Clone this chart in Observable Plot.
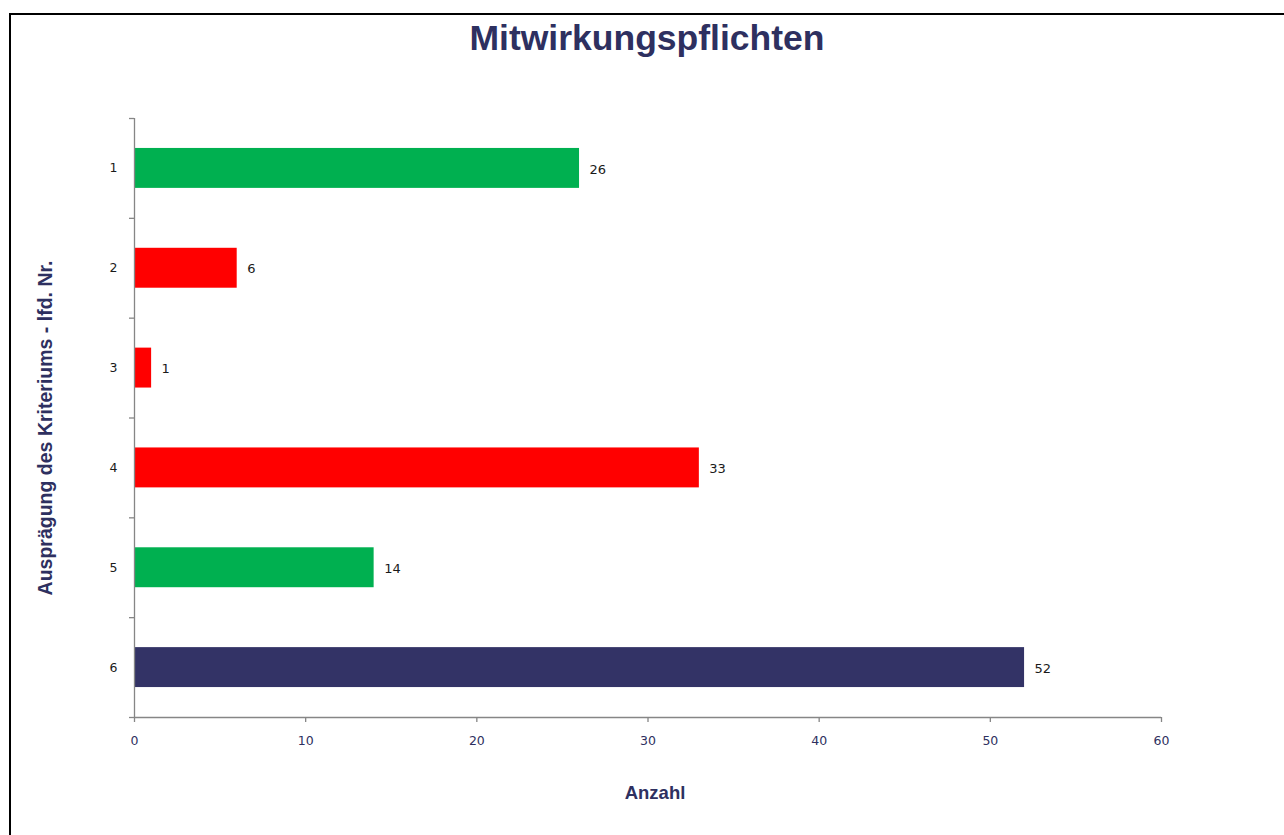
<!DOCTYPE html>
<html>
<head>
<meta charset="utf-8">
<script src="https://cdn.jsdelivr.net/npm/d3@7"></script>
<script src="https://cdn.jsdelivr.net/npm/@observablehq/plot@0.6"></script>
<style>
  html, body { margin: 0; padding: 0; background: #fff; overflow: hidden; }
  #wrap { position: relative; width: 1284px; height: 835px; overflow: hidden; }
  #frame { position: absolute; left: 9px; top: 13px; width: 1400px; height: 1000px; border: 2px solid #000; box-sizing: border-box; }
  #title { position: absolute; left: 0; width: 1294px; top: 18px; text-align: center; font-family: "Liberation Sans", Arial, sans-serif; font-weight: bold; font-size: 35.5px; color: #2e3060; }
  #chart { position: absolute; left: 0; top: 0; }
</style>
</head>
<body>
<div id="wrap">
  <div id="frame"></div>
  <div id="title"></div>
  <div id="chart"></div>
</div>
<script>
const categories = [1, 2, 3, 4, 5, 6];
const values = [26, 6, 1, 33, 14, 52];
const barColors = ["#00b050", "#ff0000", "#ff0000", "#ff0000", "#00b050", "#333366"];
const xTicks = [0, 10, 20, 30, 40, 50, 60];
const titleText = "Mitwirkungspflichten";
const yLabel = "Ausprägung des Kriteriums - lfd. Nr.";
const xLabel = "Anzahl";

const data = categories.map((c, i) => ({cat: c, value: values[i], color: barColors[i]}));
const boundaries = [categories[0] - 0.5, ...categories.map(c => c + 0.5)];
const half = 0.2;

const plot = Plot.plot({
  width: 1284,
  height: 835,
  marginLeft: 134,
  marginRight: 123,
  marginTop: 118,
  marginBottom: 118,
  style: {fontFamily: "DejaVu Sans, Verdana, sans-serif", background: "transparent", overflow: "visible"},
  x: {domain: [0, 60]},
  y: {domain: [categories[0] - 0.5, categories[categories.length - 1] + 0.5], reverse: true},
  marks: [
    Plot.rectX(data, {y1: d => d.cat - half, y2: d => d.cat + half, x1: 0, x2: "value", fill: "color"}),
    Plot.text(data, {y: "cat", x: "value", text: d => String(d.value), textAnchor: "start", dx: 10, dy: 1, fontSize: 13, fill: "#1a1a1a"}),
    Plot.ruleX([0], {stroke: "#868686", strokeWidth: 1.3}),
    Plot.ruleY([boundaries[boundaries.length - 1]], {stroke: "#868686", strokeWidth: 1.3}),
    Plot.axisY({ticks: boundaries, tickSize: 5, tickFormat: () => "", stroke: "#868686", strokeWidth: 1.3, label: null}),
    Plot.axisY({ticks: categories, tickFormat: d3.format("d"), tickSize: 0, tickPadding: 17, fontSize: 12.5, fill: "#1a1a1a", label: null}),
    Plot.axisX({ticks: xTicks, tickFormat: d3.format("d"), tickSize: 5, tickPadding: 14, fontSize: 12.5, stroke: "#868686", strokeWidth: 1.3, fill: "#2e3060", label: null}),
    Plot.text([yLabel], {frameAnchor: "left", textAnchor: "middle", rotate: -90, dx: -89, dy: 10, fontSize: 19.5, fontWeight: "bold", fill: "#2e3060", fontFamily: "Liberation Sans, Arial, sans-serif"}),
    Plot.text([xLabel], {frameAnchor: "bottom", dx: 7, dy: 81, fontSize: 18.5, fontWeight: "bold", fill: "#2e3060", fontFamily: "Liberation Sans, Arial, sans-serif"})
  ]
});
document.getElementById("title").textContent = titleText;
document.getElementById("chart").appendChild(plot);
</script>
</body>
</html>
